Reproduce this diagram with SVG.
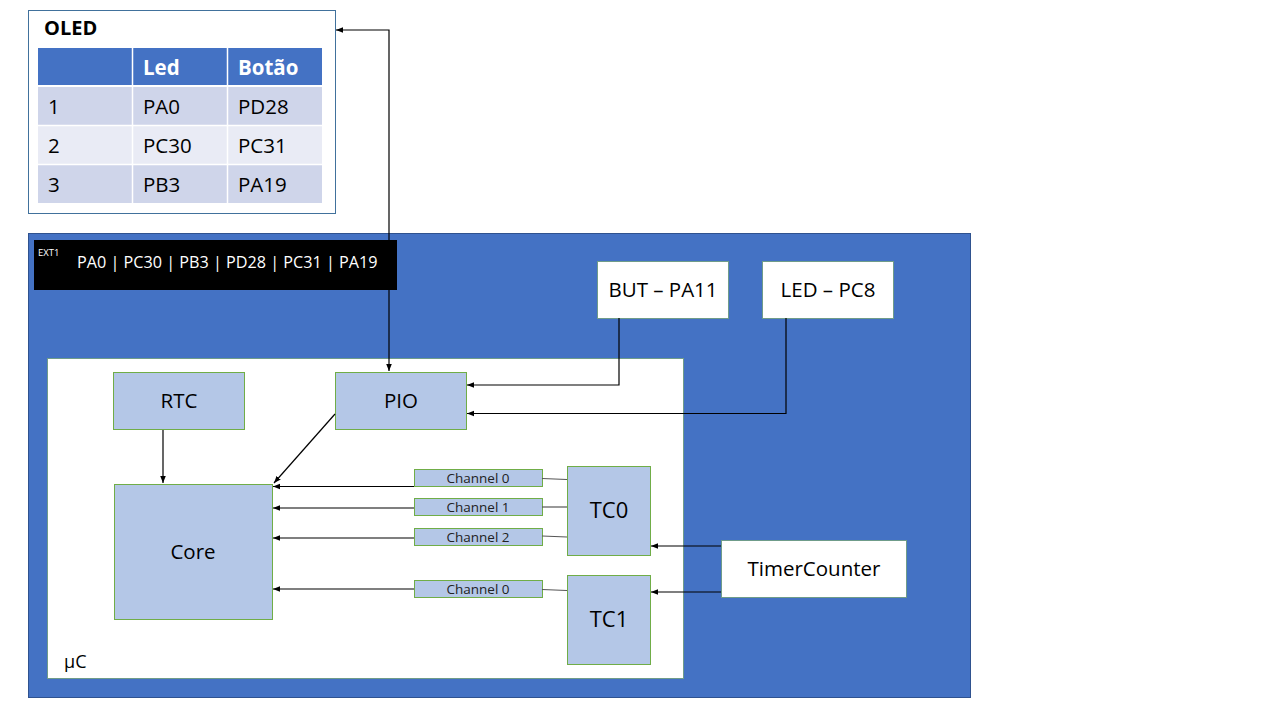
<svg xmlns="http://www.w3.org/2000/svg" width="1280" height="720" viewBox="0 0 1280 720">
<defs>
<marker id="ah" viewBox="0 0 10 10" refX="10" refY="5" markerWidth="7" markerHeight="7" markerUnits="userSpaceOnUse" orient="auto-start-reverse"><path d="M0,1 L10,5 L0,9 z" fill="#000"/></marker>
<style>
text{font-family:"Open Sans","Noto Sans","Liberation Sans",sans-serif;}
.blk{fill:#B4C7E7;stroke:#70AD47;stroke-width:1;}
.wht{fill:#fff;stroke:#6F9C8A;stroke-width:1;}
.lbl{font-size:20.5px;fill:#000;text-anchor:middle;}
.ch{font-size:13.5px;fill:#222;text-anchor:middle;}
.tb{font-size:20.5px;fill:#000;}
.th{font-size:20.5px;fill:#fff;font-weight:bold;}
.c{fill:none;stroke:#000;stroke-width:1.2;}
.g{fill:none;stroke:#555;stroke-width:1.2;}
</style>
</defs>
<rect width="1280" height="720" fill="#fff"/>
<g id="board">
<rect x="28.5" y="233.5" width="942" height="464" fill="#4472C4" stroke="#2F528F" stroke-width="1"/>
</g>
<g id="ext1">
<rect x="34" y="240" width="363" height="50" fill="#000"/>
<text x="38" y="256" style="font-size:9.5px;fill:#fff;">EXT1</text>
<text x="77" y="268" style="font-size:16.2px;fill:#fff;">PA0 | PC30 | PB3 | PD28 | PC31 | PA19</text>
</g>
<g id="oled">
<rect x="28.5" y="10.5" width="307" height="203" fill="#fff" stroke="#41719C" stroke-width="1"/>
<text x="44" y="35" style="font-size:20px;font-weight:bold;fill:#000;">OLED</text>
<rect x="38" y="48" width="284" height="37" fill="#4472C4"/>
<rect x="38" y="87" width="284" height="38" fill="#CFD5EA"/>
<rect x="38" y="126" width="284" height="38" fill="#E9EBF5"/>
<rect x="38" y="165" width="284" height="38" fill="#CFD5EA"/>
<path d="M132.5,48 V203 M227.5,48 V203 M38,86 H322 M38,125.5 H322 M38,164.5 H322" stroke="#fff" stroke-width="1.5"/>
<text x="143" y="75" class="th">Led</text>
<text x="238" y="75" class="th">Botão</text>
<text x="48" y="114" class="tb">1</text>
<text x="143" y="114" class="tb">PA0</text>
<text x="238" y="114" class="tb">PD28</text>
<text x="48" y="153" class="tb">2</text>
<text x="143" y="153" class="tb">PC30</text>
<text x="238" y="153" class="tb">PC31</text>
<text x="48" y="192" class="tb">3</text>
<text x="143" y="192" class="tb">PB3</text>
<text x="238" y="192" class="tb">PA19</text>
</g>
<g id="uc">
<rect x="47.5" y="358.5" width="636" height="320" fill="#fff" stroke="#6F9C8A" stroke-width="1"/>
<text x="64" y="668" style="font-size:18px;fill:#000;">μC</text>
</g>
<g id="rtc"><rect x="113.5" y="372.5" width="131" height="57" class="blk"/><text x="179" y="408" class="lbl">RTC</text></g>
<g id="pio"><rect x="335.5" y="372.5" width="131" height="57" class="blk"/><text x="401" y="408" class="lbl">PIO</text></g>
<g id="core"><rect x="114.5" y="484.5" width="158" height="135" class="blk"/><text x="193" y="559" class="lbl">Core</text></g>
<g id="tc0-ch0"><rect x="414.5" y="469.5" width="128" height="17" class="blk"/><text x="478" y="483" class="ch">Channel 0</text></g>
<g id="tc0-ch1"><rect x="414.5" y="498.5" width="128" height="17" class="blk"/><text x="478" y="512" class="ch">Channel 1</text></g>
<g id="tc0-ch2"><rect x="414.5" y="528.5" width="128" height="17" class="blk"/><text x="478" y="542" class="ch">Channel 2</text></g>
<g id="tc1-ch0"><rect x="414.5" y="580.5" width="128" height="17" class="blk"/><text x="478" y="594" class="ch">Channel 0</text></g>
<g id="tc0"><rect x="567.5" y="466.5" width="83" height="89" class="blk"/><text x="609" y="518" class="lbl" style="font-size:22px;">TC0</text></g>
<g id="tc1"><rect x="567.5" y="575.5" width="83" height="89" class="blk"/><text x="609" y="627" class="lbl" style="font-size:22px;">TC1</text></g>
<g id="but"><rect x="597.5" y="261.5" width="131" height="57" class="wht"/><text x="663" y="297" class="lbl">BUT – PA11</text></g>
<g id="led"><rect x="762.5" y="261.5" width="131" height="57" class="wht"/><text x="828" y="297" class="lbl">LED – PC8</text></g>
<g id="timercounter"><rect x="721.5" y="540.5" width="185" height="57" class="wht"/><text x="814" y="576" class="lbl">TimerCounter</text></g>
<g id="connectors">
<path d="M389,371 V30 H336" class="c" marker-start="url(#ah)" marker-end="url(#ah)"/>
<path d="M163,430 V483" class="c" marker-end="url(#ah)"/>
<path d="M335,414 L274,483" class="c" marker-end="url(#ah)"/>
<path d="M414,486.5 H273" class="c" marker-end="url(#ah)"/>
<path d="M414,508 H273" class="c" marker-end="url(#ah)"/>
<path d="M414,538 H273" class="c" marker-end="url(#ah)"/>
<path d="M414,589 H273" class="c" marker-end="url(#ah)"/>
<path d="M542,478.5 L567,479.5" class="g"/>
<path d="M542,507 H567" class="g"/>
<path d="M542,536 L567,537" class="g"/>
<path d="M542,589.5 L567,590.5" class="g"/>
<path d="M619,318 V385 H467" class="c" marker-end="url(#ah)"/>
<path d="M786,318 V413.5 H467" class="c" marker-end="url(#ah)"/>
<path d="M721,546 H651" class="c" marker-end="url(#ah)"/>
<path d="M721,592 H651" class="c" marker-end="url(#ah)"/>
</g>
</svg>
